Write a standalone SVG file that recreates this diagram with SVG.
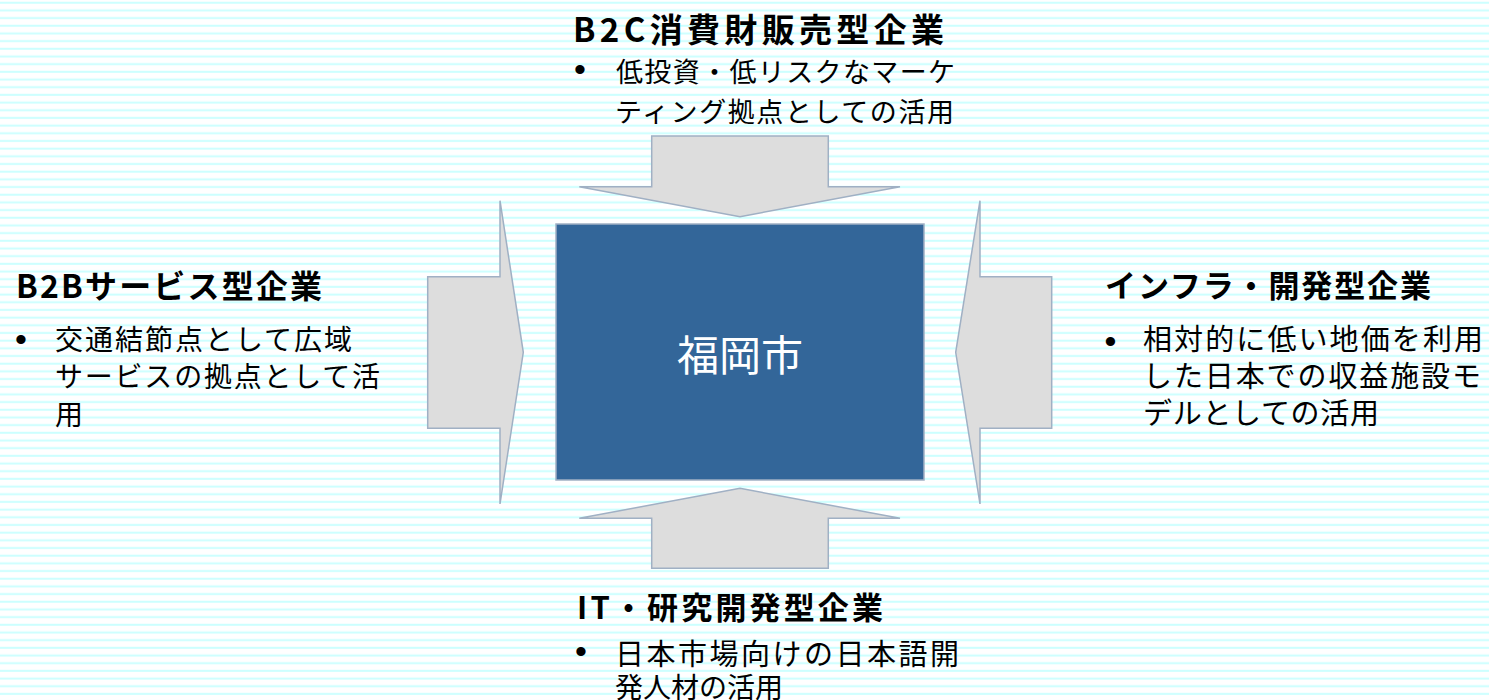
<svg xmlns="http://www.w3.org/2000/svg" width="1489" height="700" viewBox="0 0 1489 700">
<defs>
<pattern id="stripes" patternUnits="userSpaceOnUse" x="0" y="0" width="20" height="7.68">
<rect x="0" y="1.7" width="20" height="2" fill="#ccffff"/>
</pattern>
<style>
.arrow{fill:#dddddd;stroke:#a0b0c4;stroke-width:1.5;stroke-linejoin:miter}
.title{font-family:"Noto Sans CJK JP","Liberation Sans",sans-serif;font-weight:bold;fill:#000}
.body{font-family:"Noto Sans CJK JP","Liberation Sans",sans-serif;fill:#000}
.bullet{font-family:"Liberation Sans",sans-serif;font-size:34px;fill:#000;text-anchor:middle}
.center{font-family:"Noto Sans CJK JP","Liberation Sans",sans-serif;font-size:42px;fill:#ffffff}
</style>
</defs>
<rect x="0" y="0" width="1489" height="700" fill="#ffffff"/>
<rect x="0" y="0" width="1489" height="700" fill="url(#stripes)"/>

<g id="connectors">
<polygon class="arrow" points="651.7,136 828.3,136 828.3,186.7 900,186.7 740,216.7 579.3,186.7 651.7,186.7"/>
<polygon class="arrow" points="651.7,568.3 828.3,568.3 828.3,518.3 900,518.3 740,488.3 579.3,518.3 651.7,518.3"/>
<polygon class="arrow" points="427.7,276.7 500,276.7 500,200.7 523.3,352.3 500,504 500,428.3 427.7,428.3"/>
<polygon class="arrow" points="1051.7,276.7 980,276.7 980,200.7 955.7,352.3 980,504 980,428.3 1051.7,428.3"/>
</g>

<g id="fukuoka">
<rect x="556" y="224" width="368" height="256" fill="#336699" stroke="#a0b0c4" stroke-width="1.5"/>
<text class="center" x="740" y="371" text-anchor="middle">福岡市</text>
</g>

<g id="b2c">
<text class="title" x="573" y="42" font-size="33" textLength="371" lengthAdjust="spacing">B2C消費財販売型企業</text>
<text class="bullet" x="580" y="81">•</text>
<text class="body" x="616" y="82" font-size="27" textLength="339" lengthAdjust="spacing">低投資・低リスクなマーケ</text>
<text class="body" x="615" y="122" font-size="27" textLength="339" lengthAdjust="spacing">ティング拠点としての活用</text>
</g>

<g id="b2b">
<text class="title" x="16" y="298" font-size="32" textLength="306" lengthAdjust="spacing">B2Bサービス型企業</text>
<text class="bullet" x="21" y="351">•</text>
<text class="body" x="55" y="350" font-size="28" textLength="297" lengthAdjust="spacing">交通結節点として広域</text>
<text class="body" x="55" y="387" font-size="28" textLength="325" lengthAdjust="spacing">サービスの拠点として活</text>
<text class="body" x="55" y="425" font-size="28">用</text>
</g>

<g id="infra">
<text class="title" x="1105" y="297" font-size="31" textLength="326" lengthAdjust="spacing">インフラ・開発型企業</text>
<text class="bullet" x="1110.5" y="352.5">•</text>
<text class="body" x="1143" y="350" font-size="29" textLength="340" lengthAdjust="spacing">相対的に低い地価を利用</text>
<text class="body" x="1143" y="387" font-size="29" textLength="338" lengthAdjust="spacing">した日本での収益施設モ</text>
<text class="body" x="1143" y="424" font-size="29" textLength="236" lengthAdjust="spacing">デルとしての活用</text>
</g>

<g id="it">
<text class="title" x="577" y="619" font-size="31" textLength="306" lengthAdjust="spacing">IT・研究開発型企業</text>
<text class="bullet" x="581" y="663">•</text>
<text class="body" x="615" y="665" font-size="29" textLength="344" lengthAdjust="spacing">日本市場向けの日本語開</text>
<text class="body" x="615" y="698" font-size="28">発人材の活用</text>
</g>
</svg>
